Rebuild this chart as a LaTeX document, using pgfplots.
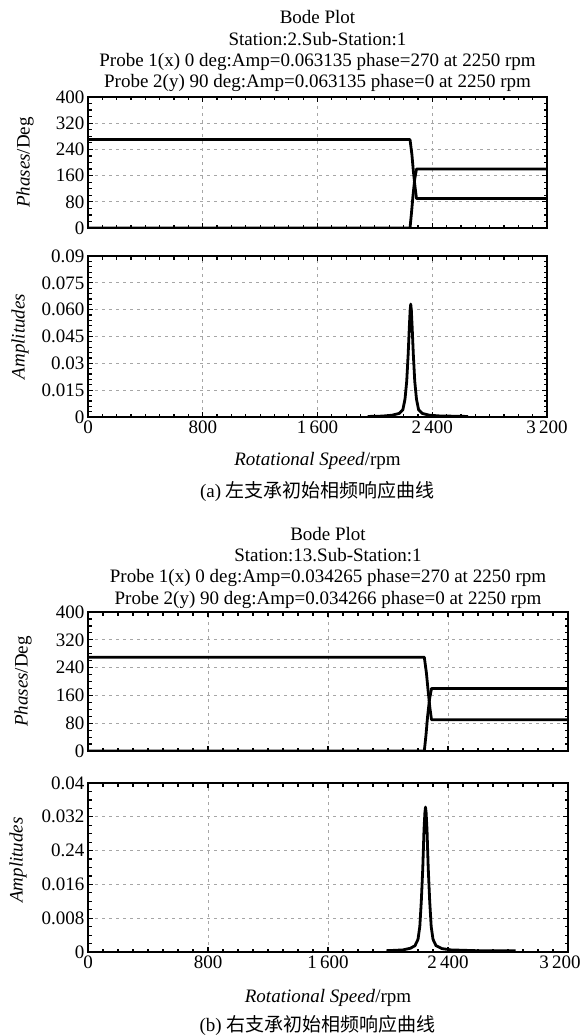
\documentclass[border=0pt]{standalone}
\usepackage{pgfplots}
\pgfplotsset{compat=1.18}
\usepackage{pgfplotstable}
\usepackage{fontspec}
\setmainfont{Liberation Serif}
\newfontfamily\cjk{Noto Sans CJK SC}

% Panel (a) phases
\pgfplotstableread{
x y
0 270
2245 270
2258 225
2268 175
2280 125
2290 90
3200 90
}\phaseAone
\pgfplotstableread{
x y
0 0
2245 0
2255 45
2266 100
2278 150
2290 180
3200 180
}\phaseAtwo
% Panel (a) amplitude
\pgfplotstableread{
x y
1950 0.0003
2050 0.0005
2120 0.0010
2170 0.0020
2195 0.0040
2210 0.0100
2222 0.0200
2232 0.0350
2240 0.0500
2246 0.0600
2250 0.0631
2254 0.0600
2260 0.0500
2268 0.0350
2278 0.0200
2290 0.0100
2305 0.0040
2330 0.0020
2380 0.0010
2450 0.0006
2650 0.0003
}\ampA
% Panel (b) phases
\pgfplotstableread{
x y
0 270
2242 270
2256 225
2267 175
2279 125
2290 90
3200 90
}\phaseBone
\pgfplotstableread{
x y
0 0
2242 0
2253 45
2264 100
2277 150
2290 180
3200 180
}\phaseBtwo
% Panel (b) amplitude
\pgfplotstableread{
x y
1990 0.0003
2100 0.0005
2150 0.0009
2180 0.0015
2200 0.0030
2212 0.0060
2222 0.0120
2232 0.0200
2240 0.0290
2246 0.0330
2250 0.0343
2254 0.0330
2260 0.0290
2268 0.0200
2278 0.0120
2288 0.0060
2300 0.0030
2320 0.0015
2360 0.0008
2420 0.0005
2600 0.0003
2850 0.0003
}\ampB

\pgfplotsset{bode/.style={
  scale only axis, anchor=south west,
  xmin=0, xmax=3200, xtick={0,800,1600,2400,3200}, minor x tick num=7,
  grid=major,
  major grid style={gray!70, dash pattern=on 3pt off 4pt, line width=0.9pt},
  axis line style={line width=1.9pt},
  tick align=inside, major tick length=5pt, minor tick length=3.5pt,
  tick style={black, line width=1.2pt},
  tick label style={font=\fontsize{19}{22}\selectfont},
  scaled ticks=false,
},
pl/.style={black, line width=2.8pt, mark=none, line join=round}}

\begin{document}
\begin{tikzpicture}[font=\fontsize{19}{22}\selectfont]
\useasboundingbox (0pt,0pt) rectangle (584pt,-1035pt);

% ---------- Panel (a) ----------
\node[anchor=base] at (317.5pt,-24pt) {Bode Plot};
\node[anchor=base] at (317.5pt,-46pt) {Station:2.Sub-Station:1};
\node[anchor=base] at (317.5pt,-67pt) {Probe 1(x) 0 deg:Amp=0.063135 phase=270 at 2250 rpm};
\node[anchor=base] at (317.5pt,-88pt) {Probe 2(y) 90 deg:Amp=0.063135 phase=0 at 2250 rpm};

\begin{axis}[bode, at={(88pt,-228pt)}, width=459pt, height=131pt,
  ymin=0, ymax=400, ytick={0,80,...,400}, minor y tick num=3,
  yticklabels={0,80,160,240,320,400}, xticklabels={}]
\addplot[pl] table {\phaseAone};
\addplot[pl] table {\phaseAtwo};
\end{axis}
\node[rotate=90] at (25pt,-162.5pt) {\textit{Phases}/Deg};

\begin{axis}[bode, at={(88pt,-417pt)}, width=459pt, height=161pt,
  ymin=0, ymax=0.09, ytick={0,0.015,0.03,0.045,0.06,0.075,0.09}, minor y tick num=4,
  yticklabels={0,0.015,0.03,0.045,0.060,0.075,0.09},
  xticklabels={0,800,1\,600,2\,400,3\,200}]
\addplot[pl] table {\ampA};
\end{axis}
\node[rotate=90] at (20pt,-336.5pt) {\textit{Amplitudes}};
\node[anchor=base] at (317.5pt,-465pt) {\textit{Rotational Speed}/rpm};
\node[anchor=base] at (317.5pt,-497pt) {(a) {\cjk 左支承初始相频响应曲线}};

% ---------- Panel (b) ----------
\node[anchor=base] at (328pt,-540pt) {Bode Plot};
\node[anchor=base] at (328pt,-561.5pt) {Station:13.Sub-Station:1};
\node[anchor=base] at (328pt,-582.5pt) {Probe 1(x) 0 deg:Amp=0.034265 phase=270 at 2250 rpm};
\node[anchor=base] at (328pt,-604pt) {Probe 2(y) 90 deg:Amp=0.034266 phase=0 at 2250 rpm};

\begin{axis}[bode, at={(88pt,-751pt)}, width=480pt, height=139pt,
  ymin=0, ymax=400, ytick={0,80,...,400}, minor y tick num=3,
  yticklabels={0,80,160,240,320,400}, xticklabels={}]
\addplot[pl] table {\phaseBone};
\addplot[pl] table {\phaseBtwo};
\end{axis}
\node[rotate=90] at (23pt,-681.5pt) {\textit{Phases}/Deg};

\begin{axis}[bode, at={(88pt,-952pt)}, width=480pt, height=169pt,
  ymin=0, ymax=0.04, ytick={0,0.008,0.016,0.024,0.032,0.04}, minor y tick num=3,
  yticklabels={0,0.008,0.016,0.24,0.032,0.04},
  xticklabels={0,800,1\,600,2\,400,\hspace*{-16pt}3\,200}]
\addplot[pl] table {\ampB};
\end{axis}
\node[rotate=90] at (18pt,-860pt) {\textit{Amplitudes}};
\node[anchor=base] at (328pt,-1002pt) {\textit{Rotational Speed}/rpm};
\node[anchor=base] at (317.5pt,-1031pt) {(b) {\cjk 右支承初始相频响应曲线}};
\end{tikzpicture}
\end{document}
